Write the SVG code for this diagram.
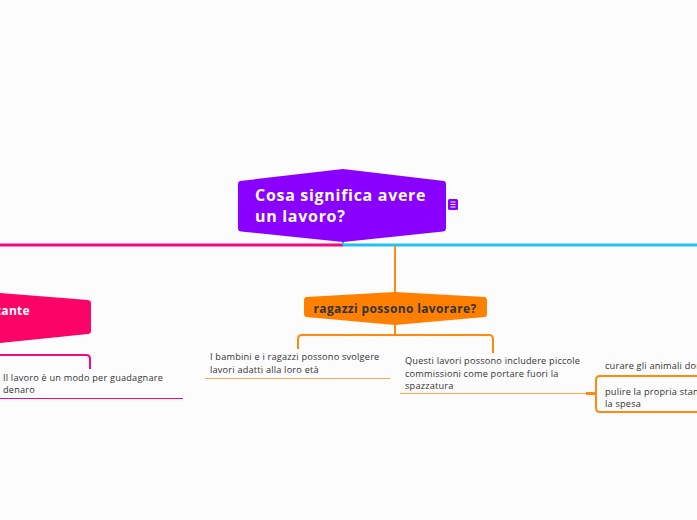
<svg xmlns="http://www.w3.org/2000/svg" width="697" height="520" viewBox="0 0 697 520">
<style>
.bg{fill:#fcfcfc}
.t{font-family:"Open Sans",Lato,sans-serif}
.topic{font-size:16px;font-weight:bold;fill:#ffffff;letter-spacing:0.7px}
.sub{font-size:12px;font-weight:bold;fill:#333333;letter-spacing:0.35px}
.leaf{font-size:9.2px;fill:#333333;letter-spacing:0.2px}
.pk{stroke:#f5077f;fill:none}
.bl{stroke:#1ec3f3;fill:none}
.or{stroke:#ff8a10;fill:none}
.orl{stroke:#ffa850;fill:none}
</style>
<rect class="bg" x="0" y="0" width="697" height="520"/>
<g id="connectors" stroke-linecap="butt">
  <path class="pk" stroke-width="3" d="M0,245 H343"/>
  <path class="bl" stroke-width="3" d="M343,245 H697"/>
  <path class="bl" stroke-width="2" d="M343,240 V245"/>
  <path class="or" stroke-width="2" d="M395,246 V293"/>
  <path class="or" stroke-width="2" d="M395,324 V335"/>
  <path class="or" stroke-width="2" d="M298,349 V339 Q298,335 302,335 H489 Q493,335 493,339 V353"/>
  <path class="orl" stroke-width="1.2" d="M205,378.5 H390"/>
  <path class="orl" stroke-width="1.2" d="M400,393.5 H586"/>
  <path class="or" stroke-width="3" d="M586,393.5 H597"/>
  <path class="or" stroke-width="2" d="M697,376 H600 Q596,376 596,380 V408 Q596,412 600,412 H697"/>
  <path class="pk" stroke-width="2" d="M0,355 H86 Q90,355 90,359 V369"/>
  <path class="pk" stroke-width="1.2" d="M0,398.5 H183"/>
</g>
<g id="node-main">
  <path d="M240,181 L343,169 L444,181 Q446,181.5 446,184 V228 Q446,231 443,231.5 L343,242 L241,231.5 Q238,231 238,228 V184 Q238,181.5 240,181 Z" fill="#8a00ff"/>
  <text class="t topic" x="255" y="201">Cosa significa avere</text>
  <text class="t topic" x="255" y="222">un lavoro?</text>
  <rect x="448" y="199" width="10" height="11" rx="1.5" fill="#8a00ff"/>
  <path d="M450.5,202 H455.5 M450.5,204.5 H455.5 M450.5,207 H455.5" stroke="#ffffff" stroke-width="1"/>
</g>
<g id="node-orange">
  <path d="M306,297 L395,292 L485,297 Q487,297.5 487,300 V314 Q487,316.5 485,317 L395,325 L306,317 Q304,316.5 304,314 V300 Q304,297.5 306,297 Z" fill="#ff8000"/>
  <text class="t sub" x="395" y="313" text-anchor="middle">ragazzi possono lavorare?</text>
</g>
<g id="node-pink">
  <path d="M0,293 L88,300 Q91,300.5 91,303 V331 Q91,333.5 88,334 L0,343 Z" fill="#fa0468"/>
  <text class="t topic" x="30" y="315" text-anchor="end" style="font-size:12px;letter-spacing:0.3px">tante</text>
</g>
<g id="leaf-denaro">
  <text class="t leaf" x="3" y="381">Il lavoro è un modo per guadagnare</text>
  <text class="t leaf" x="3" y="393">denaro</text>
</g>
<g id="leaf-bambini">
  <text class="t leaf" x="210" y="360">I bambini e i ragazzi possono svolgere</text>
  <text class="t leaf" x="210" y="373">lavori adatti alla loro età</text>
</g>
<g id="leaf-questi">
  <text class="t leaf" x="405" y="364">Questi lavori possono includere piccole</text>
  <text class="t leaf" x="405" y="377">commissioni come portare fuori la</text>
  <text class="t leaf" x="405" y="389">spazzatura</text>
</g>
<g id="leaf-animali">
  <text class="t leaf" x="605" y="369">curare gli animali domestici</text>
</g>
<g id="leaf-pulire">
  <text class="t leaf" x="605" y="395">pulire la propria stanza o fare</text>
  <text class="t leaf" x="605" y="407">la spesa</text>
</g>
</svg>
